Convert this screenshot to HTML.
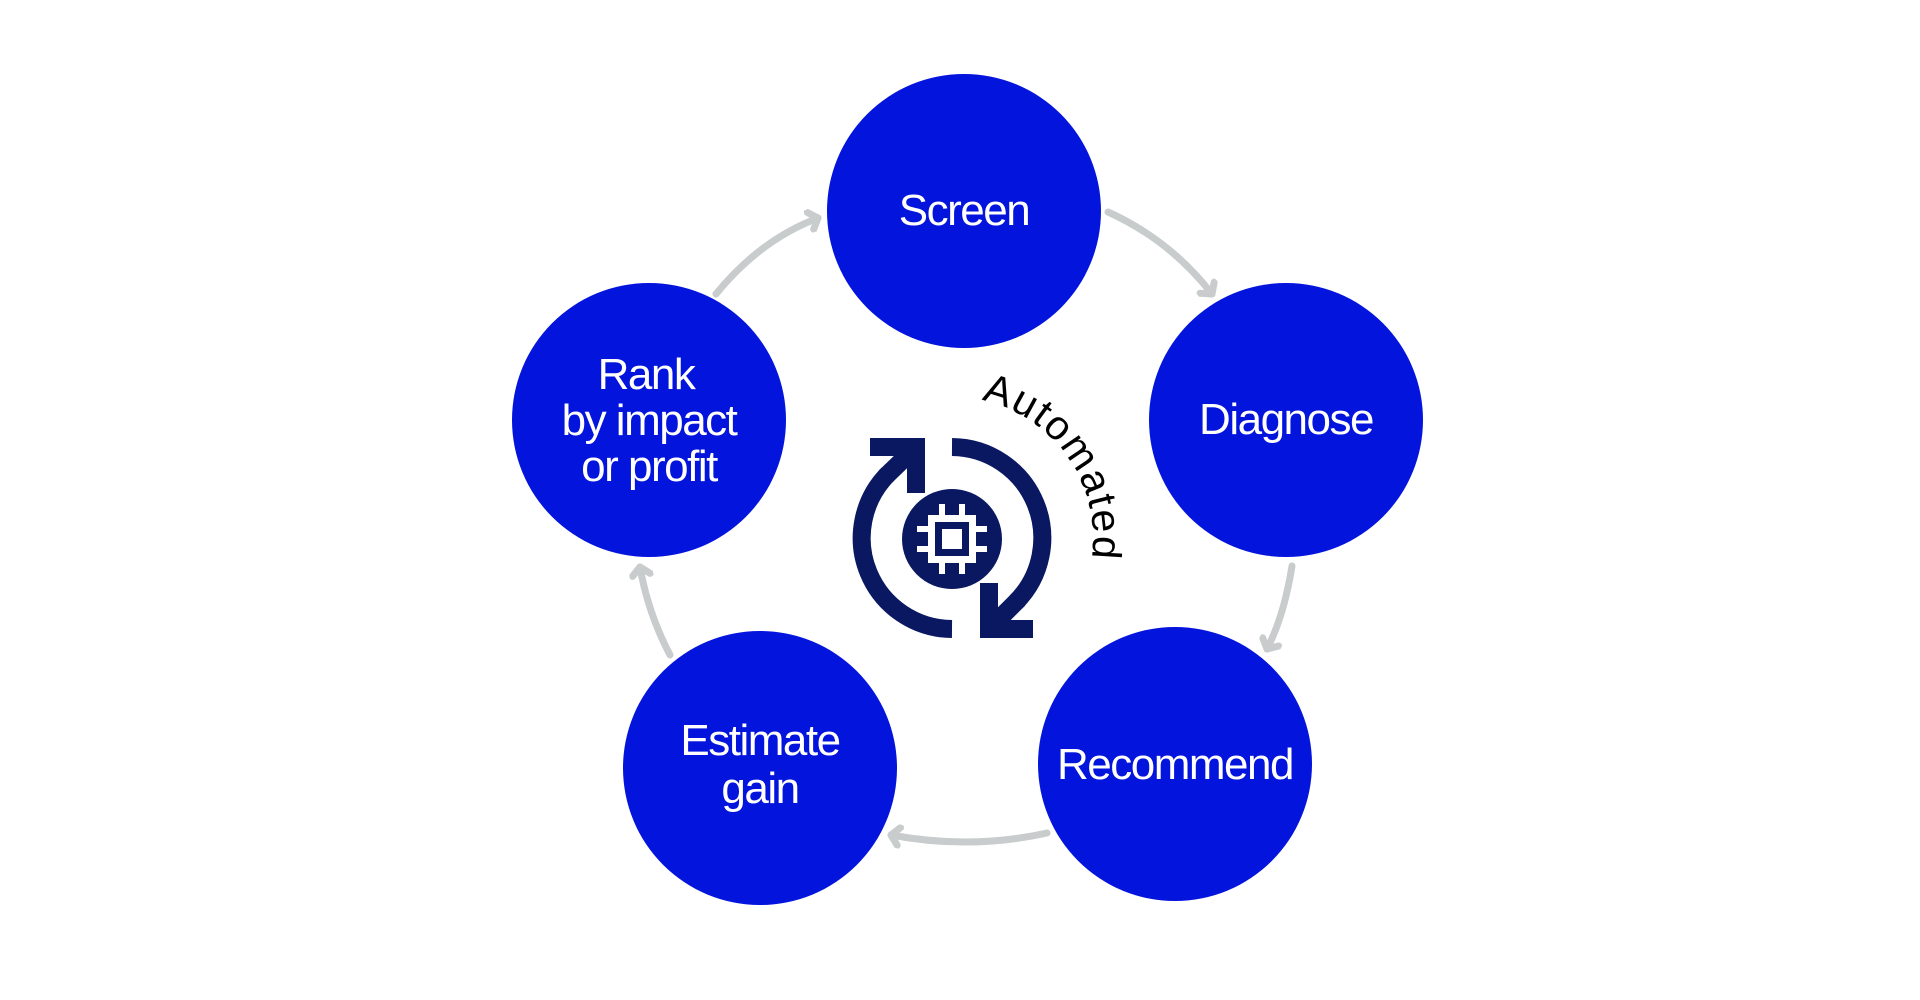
<!DOCTYPE html>
<html><head><meta charset="utf-8"><style>
html,body{margin:0;padding:0;background:#fff;}
svg{display:block}
.t{font-family:"Liberation Sans",sans-serif;font-size:44px;fill:#fff;text-anchor:middle;letter-spacing:-1.5px}
</style></head><body>
<svg width="1920" height="1000" viewBox="0 0 1920 1000" xmlns="http://www.w3.org/2000/svg">
<defs>
<marker id="a" markerUnits="userSpaceOnUse" markerWidth="24" markerHeight="24" refX="12" refY="12" orient="auto">
<path d="M4,3 L12,12 L4,21" fill="none" stroke="#c8cccc" stroke-width="7" stroke-linecap="round" stroke-linejoin="round"/>
</marker>
</defs>
<g fill="none" stroke="#c8cccc" stroke-width="7" stroke-linecap="round" marker-end="url(#a)">
<path d="M716,294 Q760,240 818,218"/>
<path d="M1108,212 Q1170,240 1212,294"/>
<path d="M1292,566 Q1284,616 1267,649"/>
<path d="M1047,833 Q971,850 891,835"/>
<path d="M670,655 Q648,613 640,567"/>
</g>
<g fill="#0314dc">
<circle cx="964" cy="211" r="137"/>
<circle cx="1286" cy="420" r="137"/>
<circle cx="1175" cy="764" r="137"/>
<circle cx="760" cy="768" r="137"/>
<circle cx="649" cy="420" r="137"/>
</g>
<text class="t" x="964" y="225">Screen</text>
<text class="t" x="1286" y="434">Diagnose</text>
<text class="t" x="1175" y="779">Recommend</text>
<text class="t" x="760" y="755">Estimate</text>
<text class="t" x="760" y="803">gain</text>
<text class="t" x="646" y="389">Rank</text>
<text class="t" x="649" y="435">by impact</text>
<text class="t" x="649" y="481">or profit</text>
<g fill="none" stroke="#0a1862" stroke-width="18">
<path d="M952,629 A91,91 0 0 1 888,474"/>
<path d="M885,477 L916,447"/>
<path d="M870,447 L916,447 L916,493" stroke-linejoin="miter"/>
<path d="M952,447 A91,91 0 0 1 1016,602"/>
<path d="M1019,599 L989,629"/>
<path d="M1033,629 L989,629 L989,583" stroke-linejoin="miter"/>
</g>
<circle cx="952" cy="539" r="50" fill="#0a1862"/>
<g fill="#fff">
<rect x="928" y="515" width="48" height="48"/>
<rect x="917" y="526" width="70" height="6"/>
<rect x="917" y="546" width="70" height="6"/>
<rect x="939" y="504" width="6" height="70"/>
<rect x="959" y="504" width="6" height="70"/>
</g>
<rect x="935" y="522" width="34" height="34" fill="#0a1862"/>
<rect x="942" y="529" width="20" height="20" fill="#fff"/>
<path id="arc" d="M981.3,400.1 A141,141 0 0 1 1079.8,597.6" fill="none"/>
<text font-family="Liberation Sans,sans-serif" font-size="41" fill="#000" textLength="212" lengthAdjust="spacing"><textPath href="#arc">Automated</textPath></text>
</svg>
</body></html>
